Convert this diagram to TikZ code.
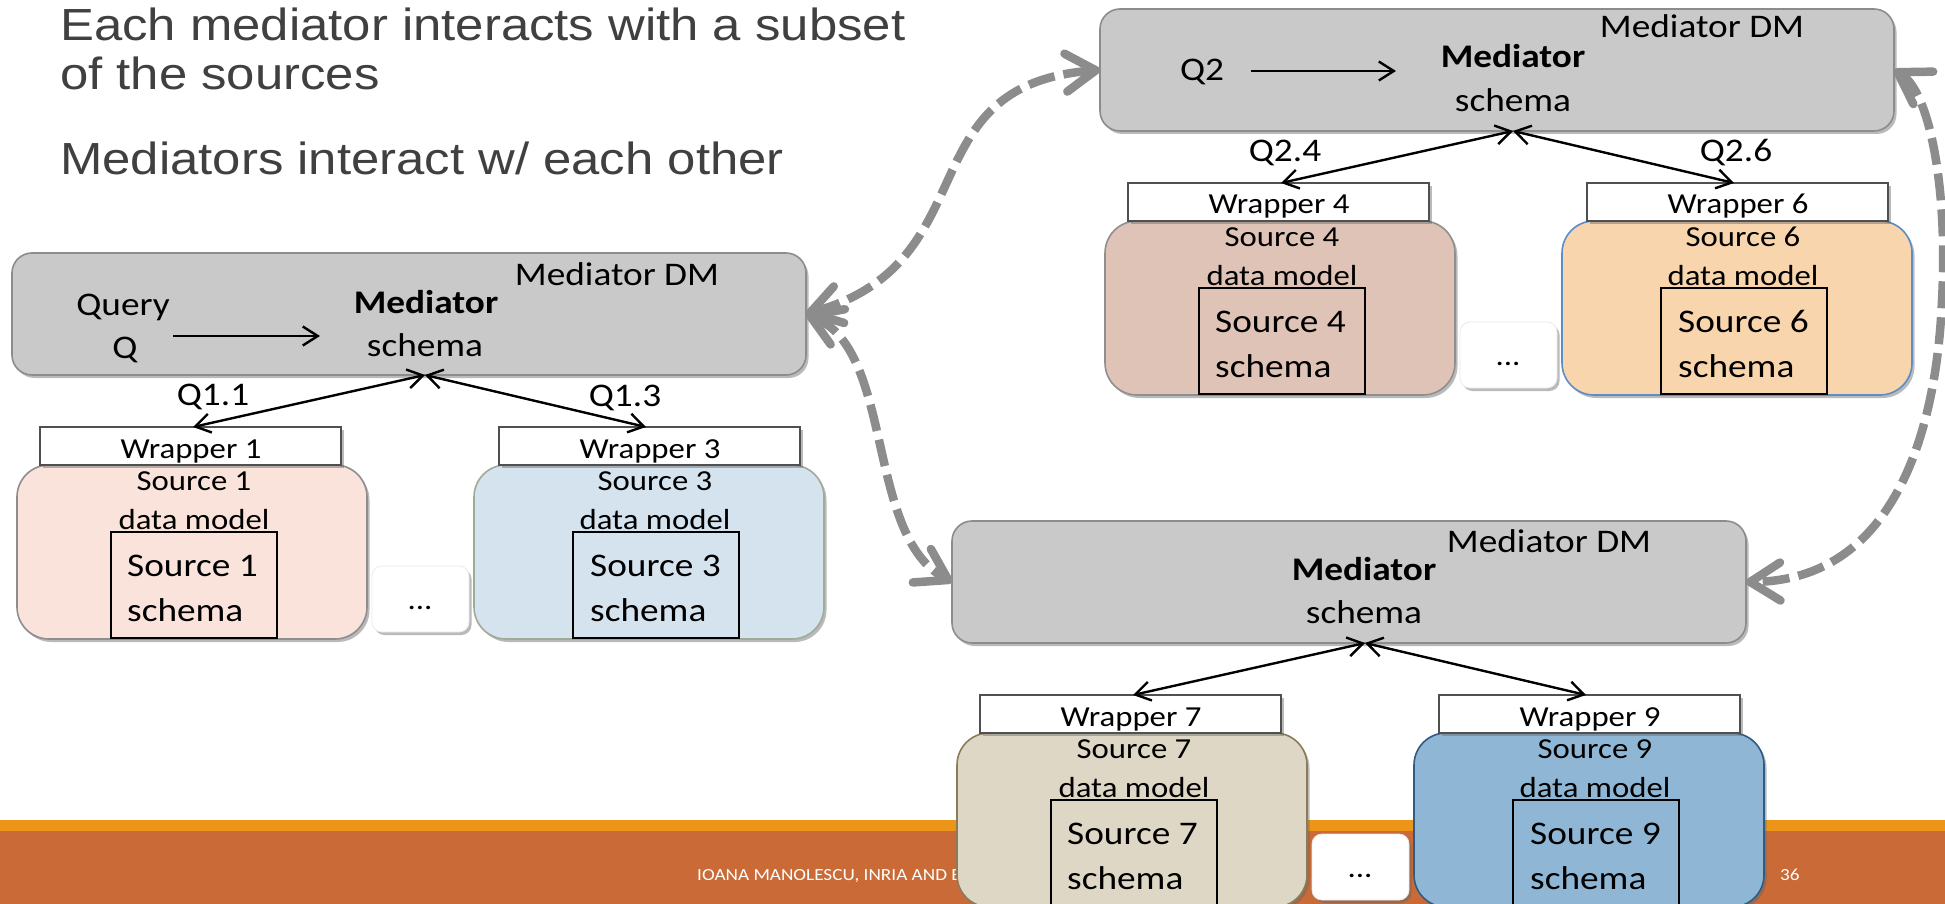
\documentclass[tikz,border=0pt]{standalone}
\usepackage{fontspec}
\setmainfont{Carlito}[FakeStretch=1.13]
\newfontfamily\titlefont{Liberation Sans}[FakeStretch=1.13]
\usetikzlibrary{arrows.meta,shadows,calc}
\definecolor{medfill}{HTML}{C9C9C9}
\definecolor{medline}{HTML}{8C8C8C}
\definecolor{wrapline}{HTML}{505050}
\definecolor{arrgray}{HTML}{8C8C8C}
\definecolor{titlegray}{HTML}{404040}
\definecolor{footorange}{HTML}{EC9518}
\definecolor{footdark}{HTML}{CA6A37}
\definecolor{sAfill}{HTML}{F9E3DA}\definecolor{sAline}{HTML}{8E8E8E}
\definecolor{sBfill}{HTML}{D5E3EF}\definecolor{sBline}{HTML}{9FAB97}
\definecolor{sCfill}{HTML}{DFC3B7}\definecolor{sCline}{HTML}{8F8F8F}
\definecolor{sDfill}{HTML}{F8D5AD}\definecolor{sDline}{HTML}{5B8DC8}
\definecolor{sEfill}{HTML}{DFD7C6}\definecolor{sEline}{HTML}{8B7B58}
\definecolor{sFfill}{HTML}{8FB7D5}\definecolor{sFline}{HTML}{2F5B84}
\newcommand\srcpair[9]{%
 \node[srcbox,fill=#5,draw=#6] (src#3) at (#1+5,#2+212) {};
 \node[wrapbox] (w#3) at (#1+28,#2+174) {};
 \node[small] (w#3t) at (#1+179,#2+205) {Wrapper #3};
 \node[small] (s#3a) at (#1+182,#2+237) {Source #3};
 \node[small] (s#3b) at (#1+182,#2+276) {data model};
 \node[schbox] (sch#3) at (#1+99,#2+279) {};
 \node[bigl] (sch#3a) at (#1+115,#2+323) {Source #3};
 \node[bigl] (sch#3b) at (#1+115,#2+368) {schema};
 \node[dotbox] (dots#9) at (#1+360,#2+313) {};
 \node[small] (dots#9t) at (#1+408,#2+356) {...};
 \node[srcbox,fill=#7,draw=#8] (src#4) at (#1+462,#2+212) {};
 \node[wrapbox] (w#4) at (#1+487,#2+174) {};
 \node[small] (w#4t) at (#1+638,#2+205) {Wrapper #4};
 \node[small] (s#4a) at (#1+643,#2+237) {Source #4};
 \node[small] (s#4b) at (#1+643,#2+276) {data model};
 \node[schbox] (sch#4) at (#1+561,#2+279) {};
 \node[bigl] (sch#4a) at (#1+578,#2+323) {Source #4};
 \node[bigl] (sch#4b) at (#1+578,#2+368) {schema};
}
\begin{document}
\begin{tikzpicture}[x=1pt,y=-1pt,
  shad/.style={drop shadow={shadow xshift=2.5pt,shadow yshift=-3pt,opacity=0.45,fill=black!60}},
  box/.style={anchor=north west,inner sep=0pt,outer sep=0pt},
  medbox/.style={box,shad,rounded corners=20pt,fill=medfill,draw=medline,line width=1.6pt,minimum width=794pt,minimum height=122pt},
  srcbox/.style={box,shad,rounded corners=32pt,line width=1.6pt,minimum width=350pt,minimum height=174pt},
  wrapbox/.style={box,shad,fill=white,draw=wrapline,line width=1.8pt,minimum width=301pt,minimum height=38pt},
  schbox/.style={box,draw=black,line width=1.3pt,minimum width=166pt,minimum height=106pt},
  dotbox/.style={box,shad,rounded corners=10pt,fill=white,draw=black!8,line width=0.8pt,minimum width=97pt,minimum height=66pt},
  big/.style={inner sep=0pt,anchor=base,font=\fontsize{33}{38}\selectfont},
  bigb/.style={inner sep=0pt,anchor=base,font=\fontsize{33}{38}\selectfont\bfseries},
  bigl/.style={big,anchor=base west},
  small/.style={inner sep=0pt,anchor=base,font=\fontsize{29}{34}\selectfont},
  ttl/.style={inner sep=0pt,anchor=base west,text=titlegray,font=\titlefont\fontsize{45}{52}\selectfont},
  foottxt/.style={inner sep=0pt,anchor=base west,text=white,font=\fontsize{17}{20}\selectfont},
  blk/.style={line width=2.4pt,{Straight Barb[length=15pt,width=19pt]}-{Straight Barb[length=15pt,width=19pt]}},
  qarr/.style={line width=2.4pt,-{Straight Barb[length=15pt,width=19pt]}},
  dsh/.style={draw=arrgray,line width=8.5pt,dash pattern=on 27pt off 9pt,
    {Straight Barb[length=30pt,width=38pt,round]}-{Straight Barb[length=30pt,width=38pt,round]}}
]
\useasboundingbox (0,0) rectangle (1945,904);
\fill[white] (0,0) rectangle (1945,904);
% footer
\fill[footorange] (0,820) rectangle (1945,831);
\fill[footdark] (0,831) rectangle (1945,904);
\node[foottxt] (foot) at (697,880) {IOANA MANOLESCU, INRIA AND E};
\node[foottxt] (pnum) at (1780,880) {36};
% title
\node[ttl] (t1) at (60,41) {Each mediator interacts with a subset};
\node[ttl] (t2) at (60,90) {of the sources};
\node[ttl] (t3) at (60,175) {Mediators interact w/ each other};
% ---- group 1
\node[medbox] (m1) at (12,253) {};
\node[big] (m1dm) at (617,285) {Mediator DM};
\node[bigb] (m1b) at (426,313) {Mediator};
\node[big] (m1s) at (425,356) {schema};
\node[big] (m1q1) at (123,315) {Query};
\node[big] (m1q2) at (125,358) {Q};
\coordinate (qa1) at (173,336);
\coordinate (qa2) at (320,336);
\draw[qarr] (qa1) -- (qa2);
\srcpair{12}{253}{1}{3}{sAfill}{sAline}{sBfill}{sBline}{A}
\node[big] (q11) at (213,405) {Q1.1};
\node[big] (q13) at (625,406) {Q1.3};
\draw[blk] ([xshift=16pt]m1.south) -- ([xshift=153pt]w1.north west);
\draw[blk] ([xshift=16pt]m1.south) -- ([xshift=147pt]w3.north west);
% ---- group 2
\node[medbox] (m2) at (1100,9) {};
\node[big] (m2dm) at (1702,38) {Mediator DM};
\node[bigb] (m2b) at (1513,68) {Mediator};
\node[big] (m2s) at (1513,112) {schema};
\node[big] (m2q) at (1202,81) {Q2};
\coordinate (qb1) at (1251,71);
\coordinate (qb2) at (1396,71);
\draw[qarr] (qb1) -- (qb2);
\srcpair{1100}{9}{4}{6}{sCfill}{sCline}{sDfill}{sDline}{B}
\node[big] (q24) at (1285,162) {Q2.4};
\node[big] (q26) at (1736,162) {Q2.6};
\draw[blk] ([xshift=16pt]m2.south) -- ([xshift=153pt]w4.north west);
\draw[blk] ([xshift=16pt]m2.south) -- ([xshift=147pt]w6.north west);
% ---- group 3
\srcpair{952}{521}{7}{9}{sEfill}{sEline}{sFfill}{sFline}{C}
\node[medbox] (m3) at (952,521) {};
\node[big] (m3dm) at (1549,552) {Mediator DM};
\node[bigb] (m3b) at (1364,580) {Mediator};
\node[big] (m3s) at (1364,623) {schema};
\draw[blk] ([xshift=16pt]m3.south) -- ([xshift=153pt]w7.north west);
\draw[blk] ([xshift=16pt]m3.south) -- ([xshift=147pt]w9.north west);
% ---- dashed mediator links
\draw[dsh] (m1.east) .. controls (990,262) and (905,85) .. (m2.west);
\draw[dsh] (m1.east) .. controls (895,350) and (865,535) .. (m3.west);
\draw[dsh] (m2.east) .. controls (1930,92) and (1948,190) .. (1942,300) .. controls (1936,440) and (1890,580) .. (m3.east);
\end{tikzpicture}
\end{document}
